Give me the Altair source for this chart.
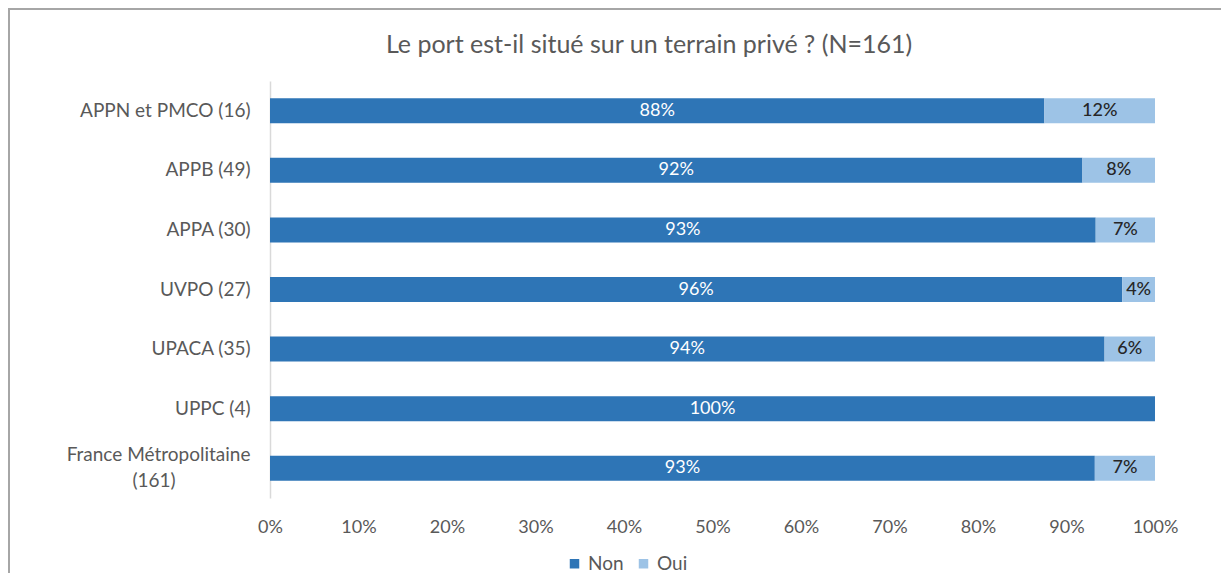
import altair as alt
import pandas as pd

title_text = "Le port est-il situé sur un terrain privé ? (N=161)"
categories = ["APPN et PMCO (16)", "APPB (49)", "APPA (30)", "UVPO (27)",
              "UPACA (35)", "UPPC (4)", "France Métropolitaine (161)"]
non_pct = [87.5, 91.8, 93.3, 96.3, 94.3, 100.0, 93.2]
oui_pct = [12.5, 8.2, 6.7, 3.7, 5.7, 0.0, 6.8]
non_labels = ["88%", "92%", "93%", "96%", "94%", "100%", "93%"]
oui_labels = ["12%", "8%", "7%", "4%", "6%", "", "7%"]
series = ["Non", "Oui"]
colors = ["#2E75B6", "#9DC3E6"]
x_ticks = [0, 0.1, 0.2, 0.3, 0.4, 0.5, 0.6, 0.7, 0.8, 0.9, 1.0]
wrap_cat = "France Métropolitaine (161)"
wrap_first = "France Métropolitaine"
wrap_second = "(161)"

rows = []
for i, c in enumerate(categories):
    rows.append({"cat": c, "series": "Non", "ord": 0, "value": non_pct[i] / 100, "label": non_labels[i]})
    rows.append({"cat": c, "series": "Oui", "ord": 1, "value": oui_pct[i] / 100, "label": oui_labels[i]})
df = pd.DataFrame(rows)

FONT = "Lato"
W, H = 885, 417
LBL = 19

label_expr = f"datum.value == '{wrap_cat}' ? '{wrap_first}' : datum.label"
label_offset = {"condition": {"test": f"datum.value == '{wrap_cat}'", "value": -13}, "value": 0}

base = alt.Chart(df).transform_stack(
    stack="value", groupby=["cat"], as_=["start", "end"], sort=[alt.SortField("ord")]
).transform_calculate(mid="(datum.start + datum.end) / 2")

y_enc = alt.Y("cat:N", sort=categories,
              scale=alt.Scale(paddingInner=0, paddingOuter=0),
              axis=alt.Axis(title=None, ticks=False, labelPadding=20, labelFontSize=LBL,
                            labelColor="#595959", labelFont=FONT, domainColor="#D9D9D9",
                            domainWidth=1.5, labelExpr=label_expr, labelOffset=label_offset,
                            labelLimit=300))
x_scale = alt.Scale(domain=[0, 1], nice=False)

bars = base.mark_bar(size=25).encode(
    y=y_enc,
    x=alt.X("start:Q", scale=x_scale,
            axis=alt.Axis(title=None, values=x_ticks, format=".0%", grid=False, domain=False,
                          ticks=False, labelPadding=20, labelFontSize=18, labelColor="#595959",
                          labelFont=FONT, labelFlush=False)),
    x2="end:Q",
    color=alt.Color("series:N", scale=alt.Scale(domain=series, range=colors),
                    legend=alt.Legend(title=None, orient="none", legendX=295, legendY=473,
                                      direction="horizontal", symbolType="square", symbolSize=90,
                                      labelFontSize=19, labelColor="#595959", labelFont=FONT,
                                      columnPadding=10, labelOffset=4, symbolStrokeWidth=0)),
)

non_text = base.transform_filter("datum.series == 'Non'").mark_text(
    font=FONT, fontSize=18, color="white", align="center", baseline="middle"
).encode(y=alt.Y("cat:N", sort=categories), x=alt.X("mid:Q", scale=x_scale), text="label:N")

oui_text = base.transform_filter("datum.series == 'Oui'").mark_text(
    font=FONT, fontSize=18, color="#262626", align="center", baseline="middle", fontWeight=500
).encode(y=alt.Y("cat:N", sort=categories), x=alt.X("mid:Q", scale=x_scale), text="label:N")

second_line = alt.Chart(alt.Data(values=[{"cat": wrap_cat, "t": wrap_second}])).mark_text(
    font=FONT, fontSize=LBL, color="#595959", align="center", baseline="middle", dy=13
).encode(y=alt.Y("cat:N", sort=categories), x=alt.value(-116), text="t:N")

single = alt.Data(values=[{"t": title_text}])
title_mark = alt.Chart(single).mark_text(
    font=FONT, fontSize=25, color="#595959", align="center", baseline="middle"
).encode(x=alt.value(379), y=alt.value(-36), text="t:N")

frame_top = alt.Chart(single).mark_rule(color="#A6A6A6", strokeWidth=2).encode(
    x=alt.value(-262), x2=alt.value(951), y=alt.value(-72))
frame_left = alt.Chart(single).mark_rule(color="#A6A6A6", strokeWidth=2).encode(
    x=alt.value(-261), y=alt.value(-73), y2=alt.value(492))

chart = alt.layer(bars, non_text, oui_text, second_line, title_mark, frame_top, frame_left).properties(
    width=W, height=H,
    padding={"left": 262, "top": 73, "right": 66, "bottom": 75},
    autosize=alt.AutoSizeParams(type="none"),
).configure_view(stroke=None)

chart.save("out.html", embed_options={"renderer": "svg", "actions": False})
